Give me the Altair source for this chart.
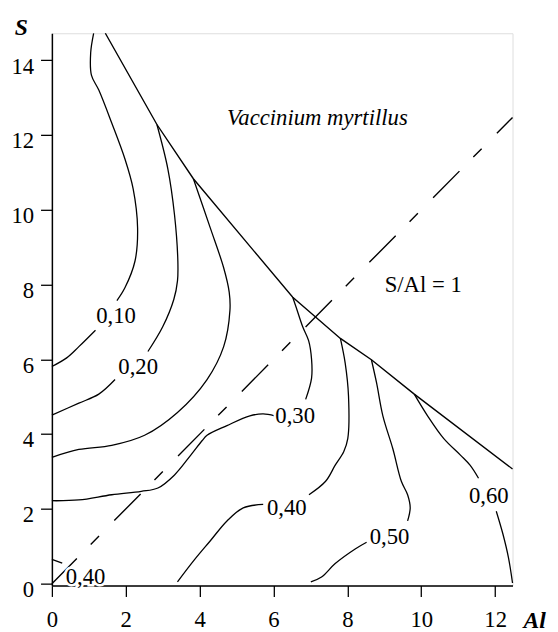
import altair as alt
import pandas as pd

# ---- data: (Al, S) pairs ----------------------------------------------
boundary = [(1.447, 14.72), (2.843, 12.28), (3.83, 10.83), (6.52, 7.66),
            (7.81, 6.56), (8.65, 5.99), (9.81, 5.07), (12.47, 3.07)]

iso010_low = [(0.0, 5.81), (0.40, 6.04), (0.73, 6.34), (1.18, 6.78)]
iso010_up = [(1.76, 7.57), (1.98, 7.92), (2.25, 8.63), (2.32, 9.51),
             (2.20, 10.56), (1.98, 11.35), (1.62, 12.32), (1.27, 13.20),
             (1.07, 13.60), (1.05, 14.20), (1.13, 14.72)]

iso020_low = [(0.0, 4.51), (0.73, 4.83), (1.27, 5.07), (1.71, 5.46)]
iso020_up = [(2.60, 6.21), (3.00, 6.87), (3.30, 7.60), (3.40, 8.10),
             (3.41, 8.63), (3.32, 9.86), (3.14, 11.09), (2.843, 12.28)]

iso025 = [(0.0, 3.38), (0.73, 3.59), (1.62, 3.70), (2.51, 3.97),
          (3.40, 4.58), (4.20, 5.46), (4.65, 6.34), (4.82, 7.31),
          (4.80, 7.80), (4.65, 8.45), (4.29, 9.51), (3.83, 10.83)]

iso030_low = [(0.0, 2.22), (0.73, 2.24), (1.62, 2.38), (2.42, 2.47),
              (2.87, 2.56), (3.32, 2.91), (3.76, 3.44), (4.07, 3.83),
              (4.20, 3.97), (4.74, 4.23), (5.36, 4.49), (5.72, 4.54),
              (6.03, 4.49)]
iso030_up = [(6.87, 4.93), (7.03, 5.50), (7.03, 6.00), (6.95, 6.50),
             (6.79, 6.87), (6.61, 7.40), (6.52, 7.66)]

iso040_up = [(6.96, 2.38), (7.41, 2.74), (7.67, 3.17), (7.90, 3.53),
             (8.01, 3.88), (8.03, 5.02), (7.94, 5.90), (7.81, 6.56)]
iso040_low = [(5.72, 2.12), (5.18, 2.03), (4.74, 1.68), (4.29, 1.15),
              (3.85, 0.63), (3.40, 0.05)]
iso040_corner = [(0.0, 0.65), (0.28, 0.55)]

iso050_up = [(8.65, 5.99), (8.79, 5.37), (8.96, 4.49), (9.23, 3.61),
             (9.46, 2.74), (9.63, 2.38), (9.70, 2.03), (9.63, 1.68)]
iso050_low = [(8.52, 1.11), (8.21, 0.93), (7.67, 0.54), (7.30, 0.18),
              (7.01, 0.05)]

iso060_up = [(9.81, 5.07), (10.17, 4.49), (10.61, 3.88), (11.06, 3.44),
             (11.32, 3.17), (11.55, 2.82)]
iso060_low = [(12.03, 1.94), (12.21, 1.33), (12.36, 0.70), (12.47, 0.02)]

ratio_line = [(0.0, 0.0), (12.47, 12.47)]

label_text = ["0,10", "0,20", "0,30", "0,40", "0,50", "0,60", "0,40"]
label_al = [1.735, 2.336, 6.586, 6.36, 9.14, 11.83, 0.913]
label_s = [7.15, 5.78, 4.49, 2.03, 1.24, 2.35, 0.17]

note_text = ["Vaccinium myrtillus", "S/Al = 1"]
note_al = [4.74, 9.01]
note_s = [12.28, 7.79]
note_style = ["italic", "normal"]

x_ticks = list(range(0, 13))
y_ticks = list(range(0, 15))

# ---- tables ---------------------------------------------------------
contours = {
    "iso010_low": iso010_low, "iso010_up": iso010_up,
    "iso020_low": iso020_low, "iso020_up": iso020_up,
    "iso025": iso025,
    "iso030_low": iso030_low, "iso030_up": iso030_up,
    "iso040_up": iso040_up, "iso040_low": iso040_low,
    "iso040_corner": iso040_corner,
    "iso050_up": iso050_up, "iso050_low": iso050_low,
    "iso060_up": iso060_up, "iso060_low": iso060_low,
}


def to_df(named):
    rows = []
    for name, pts in named.items():
        for i, (a, s) in enumerate(pts):
            rows.append({"seg": name, "ord": i, "al": a, "s": s})
    return pd.DataFrame(rows)


df_cont = to_df(contours)
df_bound = to_df({"boundary": boundary})
df_ratio = to_df({"ratio": ratio_line})
df_lab = pd.DataFrame({"al": label_al, "s": label_s, "t": label_text})
df_note = pd.DataFrame({"al": note_al, "s": note_s, "t": note_text,
                        "st": note_style})

FONT = "Liberation Serif"

xs = alt.Scale(domain=[0, 12.47], nice=False, zero=False)
ys = alt.Scale(domain=[-0.05, 14.72], nice=False, zero=False)

x_axis = alt.Axis(values=x_ticks,
                  labelExpr="datum.value % 2 == 0 ? datum.label : ''",
                  tickSize=11, tickColor="black", tickWidth=1.3,
                  domainColor="black", domainWidth=1.5,
                  labelFont=FONT, labelFontSize=23, labelColor="black",
                  labelBaseline="top", labelPadding=12, labelFlush=False,
                  grid=False, title="Al", titleFont=FONT, titleFontSize=24,
                  titleFontStyle="italic", titleFontWeight="bold",
                  titleColor="black", titleX=489, titleY=35,
                  titleAlign="center", titleBaseline="middle")
y_axis = alt.Axis(values=y_ticks,
                  labelExpr="datum.value % 2 == 0 ? datum.label : ''",
                  tickSize=11.5, tickColor="black", tickWidth=1.3,
                  domainColor="black", domainWidth=1.5,
                  labelFont=FONT, labelFontSize=23, labelColor="black",
                  labelPadding=7, labelOffset=6, labelFlush=False,
                  grid=False, title="S", titleFont=FONT, titleFontSize=24,
                  titleFontStyle="italic", titleFontWeight="bold",
                  titleColor="black", titleAngle=0, titleX=-31.5, titleY=-6,
                  titleAlign="center", titleBaseline="middle")

base_x = alt.X("al:Q", scale=xs, axis=x_axis)
base_y = alt.Y("s:Q", scale=ys, axis=y_axis)

lines = alt.Chart(df_cont).mark_line(
    color="black", strokeWidth=1.3, interpolate="catmull-rom"
).encode(x=base_x, y=base_y, detail="seg:N", order="ord:Q")

bound = alt.Chart(df_bound).mark_line(
    color="black", strokeWidth=1.4
).encode(x=alt.X("al:Q", scale=xs), y=alt.Y("s:Q", scale=ys), order="ord:Q")

ratio = alt.Chart(df_ratio).mark_line(
    color="black", strokeWidth=1.4, strokeDash=[38, 20, 12, 22],
    strokeDashOffset=2
).encode(x=alt.X("al:Q", scale=xs), y=alt.Y("s:Q", scale=ys), order="ord:Q")

halo = alt.Chart(df_lab).mark_text(
    font=FONT, fontSize=23, stroke="white", strokeWidth=5, fill="white",
    align="center", baseline="middle"
).encode(x=alt.X("al:Q", scale=xs), y=alt.Y("s:Q", scale=ys), text="t:N")

labels = alt.Chart(df_lab).mark_text(
    font=FONT, fontSize=23, color="black", align="center", baseline="middle"
).encode(x=alt.X("al:Q", scale=xs), y=alt.Y("s:Q", scale=ys), text="t:N")

notes_it = alt.Chart(df_note[df_note.st == "italic"]).mark_text(
    font=FONT, fontSize=23, fontStyle="italic", color="black",
    align="left", baseline="alphabetic"
).encode(x=alt.X("al:Q", scale=xs), y=alt.Y("s:Q", scale=ys), text="t:N")

notes_n = alt.Chart(df_note[df_note.st == "normal"]).mark_text(
    font=FONT, fontSize=23, color="black", align="left", baseline="alphabetic"
).encode(x=alt.X("al:Q", scale=xs), y=alt.Y("s:Q", scale=ys), text="t:N")

chart = alt.layer(lines, bound, ratio, halo, labels, notes_it, notes_n).properties(
    width=467, height=560,
    autosize=alt.AutoSizeParams(type="none"),
    padding={"left": 44.5, "top": 21.3, "right": 38, "bottom": 42},
).configure_view(
    stroke="black", strokeWidth=1.6
).configure(background="white")

chart.save("out.html", embed_options={"renderer": "svg", "actions": False})
